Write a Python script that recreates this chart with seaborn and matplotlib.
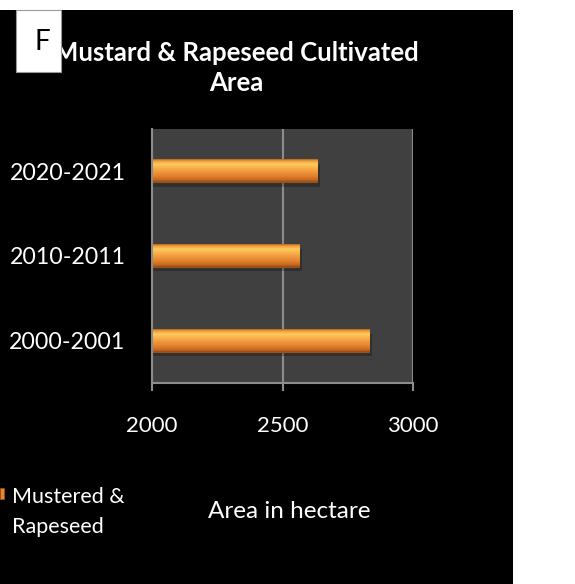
import numpy as np
import pandas as pd
import matplotlib
matplotlib.use("Agg")
import matplotlib.pyplot as plt
import seaborn as sns
from matplotlib.patches import Rectangle
from matplotlib.colors import LinearSegmentedColormap
import matplotlib.patheffects as pe

# ---- data ----
categories = ["2020-2021", "2010-2011", "2000-2001"]
values = [2633, 2564, 2833]
series_name = "Mustered &\nRapeseed"
x_ticks = [2000, 2500, 3000]
title = "Mustard & Rapeseed Cultivated\nArea"
x_label = "Area in hectare"

df = pd.DataFrame({"period": categories, "area": values})

sns.set_theme(style="dark")
plt.rcParams["font.family"] = ["Lato", "DejaVu Sans"]

W, H = 575, 584
fig = plt.figure(figsize=(W / 100, H / 100), dpi=100)
fig.patch.set_facecolor("white")

# black panel
fig.add_artist(Rectangle((0, 0), 513 / W, (584 - 10) / H, transform=fig.transFigure,
                         facecolor="black", edgecolor="none", zorder=0))

ax = fig.add_axes([152 / W, 1 - 383 / H, (413 - 152) / W, (383 - 129) / H])
ax.set_facecolor("#404040")

XMIN, XMAX = 2000, 3000
sns.barplot(data=df, y="period", x="area", order=categories, orient="h",
            width=0.26, color="#E8862E", ax=ax, zorder=3,
            edgecolor="#9A5218", linewidth=0.8)

ax.set_xlim(XMIN, XMAX)
ax.set_ylim(2.5, -0.5)

# gradient fill for bars
cmap = LinearSegmentedColormap.from_list(
    "bar", [(0.0, "#B8651E"), (0.08, "#F0A040"), (0.22, "#FFCB5C"),
            (0.45, "#F6A646"), (0.75, "#E2802C"), (0.92, "#C4661F"), (1.0, "#8E4C18")])
grad = np.linspace(0, 1, 64).reshape(-1, 1)
for p in list(ax.patches):
    x0, y0, w, h = p.get_x(), p.get_y(), p.get_width(), p.get_height()
    x1 = x0 + w
    xs = max(x0, XMIN)
    p.set_path_effects([pe.SimplePatchShadow(offset=(2, -3), shadow_rgbFace="black", alpha=0.25),
                        pe.Normal()])
    ax.imshow(grad, cmap=cmap, aspect="auto", origin="upper",
              extent=[xs, x1, y0 + h, y0], zorder=4, interpolation="bilinear")
ax.set_xlim(XMIN, XMAX)
ax.set_ylim(2.5, -0.5)

ax.set_xticks(x_ticks)
ax.set_xticklabels([str(t) for t in x_ticks])
ax.xaxis.grid(True, color="#8C8C8C", linewidth=1.5, zorder=1)
ax.yaxis.grid(False)
ax.set_axisbelow(True)
for s in ["top", "right"]:
    ax.spines[s].set_visible(False)
for s in ["left", "bottom"]:
    ax.spines[s].set_visible(True)
    ax.spines[s].set_color("#8C8C8C")
    ax.spines[s].set_linewidth(1.5)
    ax.spines[s].set_zorder(5)
ax.tick_params(axis="x", bottom=True, length=6, width=1.5, color="#8C8C8C",
               colors="white", labelsize=16, pad=18)
ax.tick_params(axis="y", left=False, length=0, colors="white", labelsize=16.7, pad=19)
for lbl in ax.get_xticklabels() + ax.get_yticklabels():
    lbl.set_color("white")
ax.set_xlabel("")
ax.set_ylabel("")

# title
fig.text(236 / W, 1 - 68 / H, title, ha="center", va="center", color="white",
         fontsize=18.5, fontweight="bold", linespacing=1.3)

# F box
fig.add_artist(Rectangle((16 / W, 1 - 72 / H), 45 / W, 62 / H, transform=fig.transFigure,
                         facecolor="white", edgecolor="#999999", linewidth=0.8, zorder=5))
fig.text(42 / W, 1 - 42 / H, "F", ha="center", va="center", color="black",
         fontsize=20, zorder=6)

# legend
fig.add_artist(Rectangle((0, 1 - 499 / H), 4 / W, 11 / H, transform=fig.transFigure,
                         facecolor="#E8862E", edgecolor="#9A5218", linewidth=0.6, zorder=5))
fig.text(12 / W, 1 - 512 / H, series_name, ha="left", va="center", color="white",
         fontsize=15.5, linespacing=1.62)

# axis title
fig.text(289 / W, 1 - 512 / H, x_label, ha="center", va="center", color="white",
         fontsize=17.5)

fig.savefig("out.png", dpi=100, facecolor="white")
